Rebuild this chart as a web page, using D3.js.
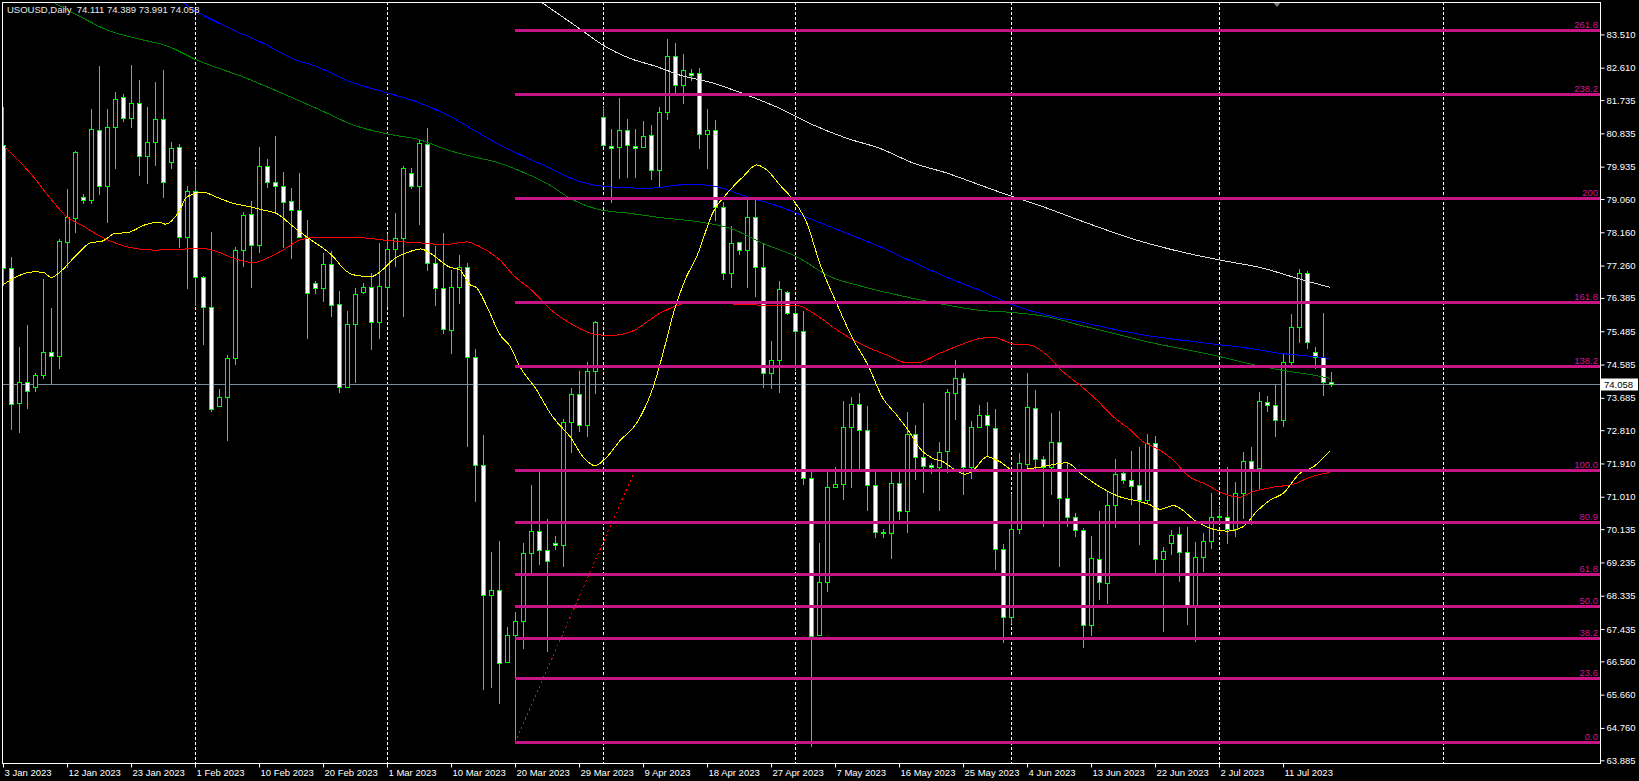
<!DOCTYPE html>
<html>
<head>
<meta charset="utf-8">
<script src="https://cdn.jsdelivr.net/npm/d3@7"></script>
<style>
  html, body { margin: 0; padding: 0; background: #000; overflow: hidden; }
  svg { display: block; }
  text { font-family: "Liberation Sans", Arial, sans-serif; }
</style>
</head>
<body>
<script>
const width = 1639, height = 781;

// daily candles, bar 0 = 3 Jan 2023
const opens = [
  80.52, 77.19, 73.54, 74.10, 73.99, 74.29, 74.92, 74.81, 77.91, 78.56,
  79.11, 79.02, 80.93, 79.42, 81.02, 81.83, 81.26, 81.65, 80.23, 80.59,
  81.21, 80.07, 80.46, 78.04, 79.28, 76.96, 76.15, 73.47, 73.70, 74.75,
  77.68, 78.66, 77.83, 79.94, 79.53, 79.41, 79.01, 78.76, 78.04, 76.78,
  76.66, 77.30, 76.21, 73.99, 75.67, 76.54, 76.67, 75.74, 76.69, 77.70,
  78.00, 79.75, 79.42, 80.54, 77.32, 76.65, 75.52, 76.67, 77.21, 74.78,
  71.86, 68.35, 68.48, 66.55, 67.26, 67.64, 69.48, 70.08, 69.57, 69.75,
  69.71, 73.02, 73.78, 72.94, 74.40, 81.29, 80.50, 80.46, 80.93, 80.50,
  80.46, 80.78, 79.84, 81.40, 82.93, 82.13, 82.46, 82.46, 80.81, 80.93,
  78.84, 77.05, 77.89, 77.68, 78.57, 77.21, 74.35, 74.70, 76.54, 75.99,
  75.48, 71.51, 67.26, 68.70, 71.27, 71.35, 72.89, 73.51, 72.81, 71.32,
  70.05, 70.02, 71.37, 70.63, 72.70, 72.08, 71.86, 71.81, 72.26, 73.81,
  74.21, 71.82, 72.89, 73.21, 72.86, 69.59, 67.77, 70.13, 71.89, 73.40,
  72.02, 71.81, 72.48, 70.97, 70.46, 70.10, 67.54, 69.32, 68.67, 70.78,
  71.64, 71.45, 71.34, 70.91, 72.46, 69.32, 69.75, 70.00, 69.53, 68.02,
  69.37, 69.81, 70.48, 70.47, 70.13, 71.10, 71.97, 71.80, 73.58, 73.48,
  73.08, 74.64, 75.59, 77.05, 74.92, 74.78, 74.111
];
const highs = [
  81.56, 77.50, 75.07, 75.65, 74.35, 76.90, 76.12, 77.99, 79.33, 80.36,
  79.20, 81.49, 82.66, 81.49, 81.94, 81.90, 82.68, 82.28, 81.56, 82.21,
  82.55, 80.60, 80.55, 79.40, 79.86, 76.98, 78.18, 73.93, 74.84, 77.77,
  78.72, 79.01, 80.47, 80.14, 80.75, 79.80, 79.37, 79.77, 78.49, 76.83,
  77.59, 77.66, 76.57, 76.03, 76.66, 76.78, 77.05, 77.86, 78.11, 78.67,
  79.94, 79.89, 80.68, 80.97, 77.80, 78.15, 77.14, 77.55, 77.32, 75.00,
  72.68, 69.52, 69.82, 67.48, 67.90, 69.76, 71.33, 71.69, 70.41, 69.95,
  73.11, 73.95, 74.41, 74.65, 75.76, 81.58, 80.94, 81.78, 81.21, 80.94,
  81.17, 81.05, 81.54, 83.39, 83.27, 82.98, 82.57, 82.59, 81.49, 81.20,
  78.97, 78.33, 77.89, 79.11, 79.02, 77.86, 75.22, 76.85, 76.58, 76.17,
  76.03, 71.69, 69.75, 71.73, 71.81, 73.60, 73.71, 73.81, 73.46, 71.76,
  70.14, 71.68, 71.76, 73.30, 72.95, 73.55, 71.92, 72.48, 73.92, 74.71,
  74.35, 73.06, 73.48, 73.57, 73.38, 69.73, 71.09, 72.19, 74.35, 73.90,
  72.12, 73.28, 73.32, 71.91, 70.58, 70.16, 69.95, 70.63, 71.13, 72.03,
  71.69, 72.25, 72.35, 72.70, 72.64, 69.66, 70.11, 70.20, 70.18, 69.78,
  70.02, 71.10, 70.77, 71.81, 71.40, 72.21, 72.35, 73.84, 73.74, 74.05,
  74.86, 75.95, 77.17, 77.11, 75.05, 75.99, 74.389
];
const lows = [
  76.74, 72.85, 72.75, 73.42, 73.87, 74.23, 74.08, 74.50, 77.23, 78.18,
  78.94, 78.94, 79.20, 78.45, 79.91, 81.18, 81.00, 79.71, 79.50, 79.98,
  79.12, 79.89, 77.77, 76.66, 76.20, 75.13, 73.33, 73.47, 72.55, 74.59,
  77.26, 76.69, 77.62, 79.39, 78.67, 77.77, 77.46, 78.02, 75.31, 76.53,
  76.31, 75.90, 73.83, 73.99, 74.12, 76.51, 75.01, 75.31, 76.17, 77.26,
  75.90, 79.37, 78.38, 77.14, 76.20, 75.43, 74.89, 76.24, 72.39, 70.90,
  65.81, 65.88, 65.43, 66.53, 64.39, 66.91, 68.91, 69.18, 66.85, 69.59,
  69.15, 72.23, 72.80, 72.66, 73.81, 80.49, 78.99, 79.62, 79.66, 79.66,
  80.46, 79.61, 79.38, 81.21, 81.96, 81.65, 82.28, 80.43, 79.89, 78.49,
  76.91, 76.67, 77.56, 76.67, 76.45, 73.99, 73.96, 73.85, 75.95, 74.44,
  71.36, 64.28, 67.26, 68.45, 71.27, 70.96, 71.28, 71.76, 70.64, 69.91,
  69.91, 69.36, 70.41, 70.05, 71.49, 71.15, 71.64, 70.64, 71.67, 73.11,
  71.08, 71.51, 72.89, 72.14, 69.07, 67.09, 67.61, 70.04, 71.80, 71.80,
  70.23, 71.09, 69.15, 70.23, 69.96, 66.94, 67.27, 68.25, 68.13, 70.18,
  71.37, 70.81, 69.73, 70.86, 68.97, 67.39, 69.47, 68.74, 67.57, 67.12,
  69.01, 69.62, 70.29, 69.75, 69.96, 70.43, 70.27, 71.21, 73.33, 72.64,
  72.93, 74.53, 75.20, 75.04, 74.50, 73.76, 73.991
];
const closes = [
  77.19, 73.51, 74.10, 73.87, 74.30, 74.92, 74.81, 77.92, 78.57, 80.32,
  79.02, 80.94, 79.42, 81.02, 81.76, 81.26, 81.65, 80.23, 80.59, 81.21,
  79.53, 80.43, 78.04, 79.28, 76.96, 76.15, 73.37, 73.70, 74.75, 77.68,
  78.63, 77.83, 79.95, 79.53, 79.42, 78.99, 78.76, 78.04, 76.51, 76.65,
  77.30, 76.20, 73.99, 75.67, 76.48, 76.67, 75.74, 76.71, 77.70, 78.00,
  79.89, 79.42, 80.57, 77.32, 76.65, 75.54, 76.67, 77.21, 74.78, 71.86,
  68.35, 68.48, 66.51, 67.26, 67.64, 69.48, 70.08, 69.57, 69.26, 69.71,
  73.02, 73.78, 72.94, 74.40, 75.73, 80.52, 80.43, 80.93, 80.51, 80.43,
  80.77, 79.84, 81.40, 82.93, 82.13, 82.54, 82.40, 80.81, 80.93, 78.84,
  77.05, 77.86, 77.68, 78.57, 77.21, 74.35, 74.70, 76.62, 75.99, 75.49,
  71.51, 67.24, 68.70, 71.28, 71.35, 72.89, 73.51, 72.81, 71.32, 70.05,
  70.02, 71.37, 70.63, 72.70, 72.08, 71.83, 71.81, 72.23, 73.83, 74.21,
  71.82, 72.89, 73.21, 72.94, 69.60, 67.77, 70.13, 71.91, 73.43, 72.02,
  71.81, 72.48, 70.97, 70.47, 70.11, 67.54, 69.35, 68.70, 70.78, 71.62,
  71.46, 71.31, 70.91, 72.46, 69.32, 69.55, 69.97, 69.53, 68.02, 69.37,
  69.81, 70.47, 70.46, 70.13, 71.10, 71.97, 71.77, 73.59, 73.48, 73.08,
  74.64, 75.59, 77.05, 75.19, 74.80, 74.12, 74.058
];

// moving averages: [bar, price]
const maYellow = [[0,76.74],[1.7,76.96],[3.8,77.09],[5,77.08],[6,76.94],[7.3,77.12],[9.2,77.55],[11,77.88],[12.4,77.92],[14,78.13],[15.5,78.15],[18,78.38],[19.5,78.43],[20.3,78.38],[22,78.72],[23,79.12],[25,79.24],[26.7,79.11],[28.8,78.94],[30.9,78.85],[32.5,78.76],[34.2,78.67],[36.3,78.31],[38,78.03],[40,77.73],[41.3,77.50],[42.5,77.19],[43.8,77.01],[46,76.96],[47.4,77.14],[49,77.46],[50.3,77.59],[52.2,77.71],[53.6,77.57],[55.7,77.23],[57.1,77.14],[58.4,76.74],[59.2,76.66],[60.5,76.15],[62.1,75.40],[63.4,75.07],[64.6,74.53],[66.7,73.90],[68.4,73.27],[69.2,73.04],[70.9,72.63],[72.5,72.09],[74,71.85],[75.5,72.09],[77.1,72.52],[79.2,73.00],[81.3,73.99],[82.5,74.89],[83.8,75.97],[85.25,76.87],[86.7,77.50],[88.8,78.72],[90.5,79.21],[92.5,79.66],[94.2,79.98],[95.5,79.84],[97.1,79.44],[98.8,79.03],[100.5,78.40],[102.1,77.32],[104.2,76.24],[106.3,75.25],[108,74.62],[110,73.67],[111.7,73.22],[113.4,72.73],[114.6,72.32],[116.2,72.05],[117.5,71.96],[118.7,71.78],[120.25,71.62],[121.3,71.73],[123,72.09],[124.6,71.96],[126.3,71.73],[129.6,71.81],[133,71.93],[134.6,71.66],[137.1,71.28],[139.6,71.01],[142.1,70.88],[143.4,70.79],[144.6,70.67],[146.3,70.77],[149.2,70.34],[151.3,70.13],[153,70.08],[155,70.20],[156.7,70.61],[158.4,70.92],[160,71.10],[162.1,71.64],[163.8,71.82],[165.9,72.26]];
const maRed = [[0.2,80.47],[2.1,80.07],[3.8,79.66],[5.9,79.08],[8,78.58],[10,78.33],[11.7,78.11],[13.8,77.89],[16.3,77.73],[18.8,77.68],[22.1,77.70],[24.6,77.73],[26.7,77.64],[28.8,77.46],[31.3,77.34],[33,77.46],[35,77.68],[37.1,77.95],[39.2,78.03],[43.4,78.03],[45.5,78.00],[48.4,77.93],[50.9,77.89],[53,77.86],[55,77.82],[58,77.90],[59.6,77.77],[62.1,77.41],[63.8,77.00],[66.3,76.55],[68.4,76.08],[71.3,75.65],[73.8,75.41],[75.9,75.37],[78.8,75.50],[82.1,75.97],[85.5,76.24],[88.8,76.25],[91.3,76.22],[95.5,76.19],[99.2,76.19],[101.3,75.97],[104.6,75.47],[107.5,75.11],[110.5,74.84],[113,74.63],[114.2,74.63],[117.1,74.89],[119.6,75.11],[122.1,75.29],[123.8,75.32],[126.3,75.14],[128.4,75.11],[130.5,74.84],[132.5,74.39],[134.6,74.03],[136.7,73.63],[138.8,73.17],[140.9,72.82],[142.5,72.50],[144.2,72.32],[146.3,72.00],[148,71.60],[150.5,71.33],[152.5,71.10],[154.6,71.00],[156.3,71.15],[158.8,71.27],[161.3,71.35],[163.4,71.54],[165.9,71.67]];
const maGreen = [[6.5,84.35],[10,83.95],[13,83.63],[17.3,83.37],[20.5,83.20],[24.1,82.83],[30.5,82.32],[35.4,81.87],[39.6,81.47],[43.8,81.06],[48,80.82],[52.1,80.66],[55.5,80.39],[58.8,80.20],[62.1,80.03],[63.8,79.89],[68,79.48],[71.3,79.03],[74.2,78.79],[78.4,78.67],[82.5,78.55],[86.7,78.45],[90.9,78.27],[95,77.86],[99.2,77.50],[103.4,76.96],[107.5,76.69],[111.7,76.47],[115.9,76.28],[122.1,76.05],[126.3,75.99],[130.5,75.88],[134.6,75.65],[138.8,75.43],[143,75.20],[147.1,75.02],[151.3,74.84],[155.5,74.62],[159.6,74.44],[163.8,74.30],[165.9,74.21]];
const maBlue = [[22,84.44],[24.6,84.08],[28.8,83.63],[33,83.22],[35.9,82.88],[39.2,82.64],[43.4,82.23],[48,81.93],[51.7,81.69],[55.9,81.29],[58.8,80.93],[62.1,80.52],[63.8,80.34],[68,79.93],[72.1,79.53],[75.5,79.39],[80.5,79.35],[85.9,79.46],[88.8,79.41],[93,79.12],[97.1,78.85],[101.3,78.49],[105.5,78.13],[109.6,77.77],[113.8,77.35],[118,76.94],[122.1,76.59],[126.3,76.19],[130.5,75.92],[134.6,75.74],[138.8,75.54],[143,75.37],[147.1,75.25],[151.3,75.14],[155.5,75.03],[159.6,74.89],[163.8,74.80],[165.9,74.75]];
const maSilver = [[66.9,84.44],[72.3,83.63],[75,83.22],[78.4,82.86],[81.7,82.64],[84.6,82.41],[88.8,82.19],[93,81.87],[97.1,81.51],[101.3,81.06],[105.5,80.70],[109.6,80.43],[113.8,80.03],[118,79.76],[122.1,79.44],[126.1,79.13],[130,78.85],[135,78.45],[142,77.93],[147.1,77.64],[152.1,77.41],[157.5,77.19],[161.7,76.92],[165.9,76.67]];

// fibonacci retracement
const fibLevels = [0, 23.6, 38.2, 50, 61.8, 80.9, 100, 138.2, 161.8, 200, 238.2, 261.8];
const fibLabels = ['0.0', '23.6', '38.2', '50.0', '61.8', '80.9', '100.0', '138.2', '161.8', '200', '238.2', '261.8'];
const fibLow = 64.37, fibHigh = 71.73, fibStartBar = 64, fibEndBar = 79;

const priceTicks = [83.510, 82.610, 81.735, 80.835, 79.935, 79.060, 78.160, 77.260, 76.385, 75.485, 74.585, 73.685,
  72.810, 71.910, 71.010, 70.135, 69.235, 68.335, 67.435, 66.560, 65.660, 64.760, 63.885];
const dateTickBars = [0, 8, 16, 24, 32, 40, 48, 56, 64, 72, 80, 88, 96, 104, 112, 120, 128, 136, 144, 152, 160];
const dateTickLabels = ['3 Jan 2023', '12 Jan 2023', '23 Jan 2023', '1 Feb 2023', '10 Feb 2023', '20 Feb 2023', '1 Mar 2023',
  '10 Mar 2023', '20 Mar 2023', '29 Mar 2023', '9 Apr 2023', '18 Apr 2023', '27 Apr 2023', '7 May 2023', '16 May 2023',
  '25 May 2023', '4 Jun 2023', '13 Jun 2023', '22 Jun 2023', '2 Jul 2023', '11 Jul 2023'];
const monthStartBars = [24, 48, 75, 99, 126, 152, 180];
const lastPrice = 74.058;

const plotLeft = 2, plotRight = 1600, plotTop = 2, plotBottom = 763;

const x = d3.scaleLinear().domain([0, 200]).range([3, 1603]);
const y = d3.scaleLinear().domain([63.885, 82.610]).range([760.3, 67.7]);

const svg = d3.select('body').append('svg')
    .attr('width', width)
    .attr('height', height)
    .style('background', '#000');

svg.append('defs').append('clipPath').attr('id', 'plot')
  .append('rect')
    .attr('x', plotLeft + 1).attr('y', plotTop + 1)
    .attr('width', plotRight - plotLeft - 1).attr('height', plotBottom - plotTop - 1);

const plot = svg.append('g').attr('clip-path', 'url(#plot)');

// month separators
plot.append('g').selectAll('line')
  .data(monthStartBars)
  .join('line')
    .attr('x1', d => Math.round(x(d)) + 0.5)
    .attr('x2', d => Math.round(x(d)) + 0.5)
    .attr('y1', plotTop)
    .attr('y2', plotBottom)
    .attr('stroke', '#fff')
    .attr('stroke-dasharray', '3,2');

// bid line
plot.append('line')
    .attr('x1', plotLeft).attr('x2', plotRight)
    .attr('y1', Math.round(y(lastPrice)) + 0.5).attr('y2', Math.round(y(lastPrice)) + 0.5)
    .attr('stroke', '#778899');

const candles = opens.map((o, i) => ({i: i, o: o, h: highs[i], l: lows[i], c: closes[i]}));

plot.append('g').selectAll('line')
  .data(candles)
  .join('line')
    .attr('x1', d => Math.round(x(d.i)) + 0.5)
    .attr('x2', d => Math.round(x(d.i)) + 0.5)
    .attr('y1', d => Math.round(y(d.h)))
    .attr('y2', d => Math.round(y(d.l)) + 1)
    .attr('stroke', '#00ff00');

plot.append('g').selectAll('rect')
  .data(candles)
  .join('rect')
    .attr('x', d => Math.round(x(d.i)) - 1.5)
    .attr('width', 4)
    .attr('y', d => Math.round(y(Math.max(d.o, d.c))) + 0.5)
    .attr('height', d => Math.max(0, Math.round(y(Math.min(d.o, d.c))) - Math.round(y(Math.max(d.o, d.c)))))
    .attr('fill', d => d.c < d.o ? '#fff' : '#000')
    .attr('stroke', '#00ff00');

// moving averages
const maLine = d3.line().x(d => x(d[0])).y(d => y(d[1])).curve(d3.curveMonotoneX);
[[maSilver, '#dcdcdc'], [maBlue, '#0000ff'], [maGreen, '#008000'], [maRed, '#ff0000'], [maYellow, '#ffff00']]
  .forEach(m => {
    plot.append('path')
        .attr('d', maLine(m[0]))
        .attr('fill', 'none')
        .attr('stroke', m[1])
        .attr('stroke-width', 1)
        .attr('shape-rendering', 'crispEdges');
  });

// fibo object
const fibPrice = lv => fibLow + (fibHigh - fibLow) * lv / 100;
plot.append('line')
    .attr('x1', x(fibStartBar)).attr('y1', y(fibLow))
    .attr('x2', x(fibEndBar)).attr('y2', y(fibHigh))
    .attr('stroke', '#ff0000')
    .attr('stroke-dasharray', '2,3')
    .attr('shape-rendering', 'crispEdges');

plot.append('g').selectAll('line')
  .data(fibLevels)
  .join('line')
    .attr('x1', x(fibStartBar))
    .attr('x2', plotRight)
    .attr('y1', d => Math.round(y(fibPrice(d))) + 0.5)
    .attr('y2', d => Math.round(y(fibPrice(d))) + 0.5)
    .attr('stroke', '#c71585')
    .attr('stroke-width', 3);

plot.append('g').selectAll('text')
  .data(fibLevels)
  .join('text')
    .attr('x', plotRight - 2)
    .attr('y', d => Math.round(y(fibPrice(d))) - 2)
    .attr('text-anchor', 'end')
    .style('font-size', '9.5px')
    .style('fill', '#d0178f')
    .text((d, i) => fibLabels[i]);

// chart shift marker
svg.append('path')
    .attr('d', 'M1273,2 L1281,2 L1277,7 Z')
    .attr('fill', '#808080');

// frame
svg.append('rect')
    .attr('x', plotLeft + 0.5).attr('y', plotTop + 0.5)
    .attr('width', plotRight - plotLeft).attr('height', plotBottom - plotTop)
    .attr('fill', 'none')
    .attr('stroke', '#fff');

// price axis
svg.append('g')
    .attr('transform', 'translate(' + (plotRight + 0.5) + ',0)')
    .call(d3.axisRight(y).tickValues(priceTicks).tickFormat(d3.format('.3f')).tickSize(4).tickPadding(2))
    .call(g => g.select('.domain').remove())
    .call(g => g.selectAll('line').attr('stroke', '#fff'))
    .call(g => g.selectAll('text').attr('fill', '#fff').style('font-size', '9.5px').style('font-family', '"Liberation Sans", Arial, sans-serif'));

// last price box
const lpY = Math.round(y(lastPrice)) + 0.5;
svg.append('rect')
    .attr('x', plotRight + 1).attr('y', lpY - 6)
    .attr('width', 37).attr('height', 12)
    .attr('fill', '#fff');
svg.append('text')
    .attr('x', plotRight + 4).attr('y', lpY + 3.5)
    .style('font-size', '9.5px')
    .style('fill', '#000')
    .text(d3.format('.3f')(lastPrice));

// time axis
svg.append('g')
    .attr('transform', 'translate(0,' + (plotBottom + 0.5) + ')')
    .call(d3.axisBottom(x).tickValues(dateTickBars).tickFormat((d, i) => dateTickLabels[i]).tickSize(4).tickPadding(2))
    .call(g => g.select('.domain').remove())
    .call(g => g.selectAll('line').attr('stroke', '#fff'))
    .call(g => g.selectAll('text').attr('fill', '#fff').attr('text-anchor', 'start').attr('x', 1)
      .style('font-size', '9.5px').style('font-family', '"Liberation Sans", Arial, sans-serif'));

// header
svg.append('text')
    .attr('x', 7).attr('y', 13)
    .style('font-size', '9.5px')
    .style('fill', '#e8e8e8')
    .style('white-space', 'pre')
    .text('USOUSD,Daily  74.111 74.389 73.991 74.058');
</script>
</body>
</html>
